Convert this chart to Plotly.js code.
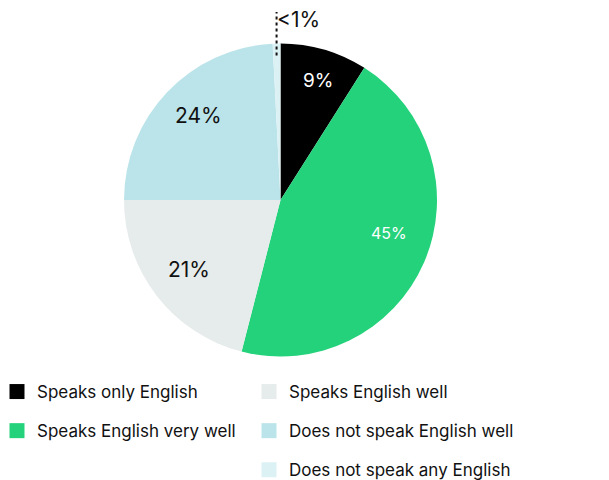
<!DOCTYPE html>
<html>
<head>
<meta charset="utf-8">
<script src="https://cdn.plot.ly/plotly-3.0.1.min.js"></script>
<style>html,body{margin:0;padding:0;background:#fff;}#chart{width:609px;height:480px;}</style>
</head>
<body>
<div id="chart"></div>
<script>
const categories = ['Speaks only English','Speaks English very well','Speaks English well','Does not speak English well','Does not speak any English'];
const values = [9, 45, 21, 24.2, 0.8];
const valueLabels = ['9%','45%','21%','24%','<1%'];
const colors = ['#000000','#23D27A','#E6EBEB','#BBE4EA','#DCF1F4'];
const legendColumn = ['legend','legend','legend2','legend2','legend2'];

// label styling / placement (radius fraction, angular nudge in degrees)
const labelColors = ['#ffffff','#ffffff','#111111','#111111','#111111'];
const labelSizes = [19, 16, 21, 21, 21];
const labelRadius = [0.80, 0.725, 0.735, 0.75];
const labelNudge = [1, -6.5, 0.4, 2.3];

const FONT = 'Inter, Roboto, sans-serif';
const W = 609, H = 480;
const dom = {x:[124/W, 437/W], y:[1-356.5/H, 1-43.5/H]};

const pie = {
  type:'pie', labels:categories, values:values, sort:false, direction:'clockwise', rotation:0,
  marker:{colors:colors, line:{width:0}},
  textinfo:'none',
  domain:dom, showlegend:false, hoverinfo:'label+percent', automargin:false
};

const legendTraces = categories.map((c,i)=>({
  type:'scatter', mode:'markers', x:[null], y:[null], name:c,
  marker:{symbol:'square', size:15, color:colors[i]},
  legend:legendColumn[i], legendgroup:'g'+i, showlegend:true, hoverinfo:'skip'
}));

// geometry derived from the pie domain and the data
const total = values.reduce((a,b)=>a+b,0);
const cx = (dom.x[0]+dom.x[1])/2*W, cy = (1-(dom.y[0]+dom.y[1])/2)*H;
const r = (dom.x[1]-dom.x[0])*W/2;
const annotations = [];
let cum = 0;
const mids = values.map(v=>{ const m=(cum+v/2)/total; cum+=v; return m; });
for (let i=0;i<4;i++){
  const th = mids[i]*2*Math.PI + labelNudge[i]*Math.PI/180;
  const px = cx + labelRadius[i]*r*Math.sin(th);
  const py = cy - labelRadius[i]*r*Math.cos(th);
  annotations.push({xref:'paper', yref:'paper', x:px/W, y:1-py/H, xanchor:'center', yanchor:'middle',
    text:valueLabels[i], showarrow:false, font:{family:FONT, size:labelSizes[i], color:labelColors[i]}});
}
const th4 = mids[4]*2*Math.PI;
const lx = cx + r*Math.sin(th4);
const yIn = cy - (r-12)*Math.cos(th4);
const yTop = 12;
annotations.push({xref:'paper', yref:'paper', x:(lx-2)/W, y:1-20/H, xanchor:'left', yanchor:'middle',
  text:valueLabels[4], showarrow:false, font:{family:FONT, size:labelSizes[4], color:labelColors[4]}});

const layout = {
  width:W, height:H, margin:{l:0,r:0,t:0,b:0, autoexpand:false},
  paper_bgcolor:'#ffffff', plot_bgcolor:'#ffffff',
  font:{family:FONT, color:'#111111'},
  xaxis:{visible:false}, yaxis:{visible:false},
  showlegend:true,
  legend:{x:-3/W, xanchor:'left', y:1-374/H, yanchor:'top', traceorder:'grouped', tracegroupgap:14,
    font:{family:FONT, size:17, color:'#111111'}, itemwidth:30, bgcolor:'rgba(0,0,0,0)', itemclick:false},
  legend2:{x:249/W, xanchor:'left', y:1-374/H, yanchor:'top', traceorder:'grouped', tracegroupgap:14,
    font:{family:FONT, size:17, color:'#111111'}, itemwidth:30, bgcolor:'rgba(0,0,0,0)', itemclick:false},
  shapes:[{type:'line', xref:'paper', yref:'paper', x0:lx/W, x1:lx/W, y0:1-yIn/H, y1:1-yTop/H,
    line:{color:'#111111', width:2, dash:'dot'}}],
  annotations:annotations
};

Plotly.newPlot('chart', [pie, ...legendTraces], layout, {displayModeBar:false, staticPlot:true});
</script>
</body>
</html>
